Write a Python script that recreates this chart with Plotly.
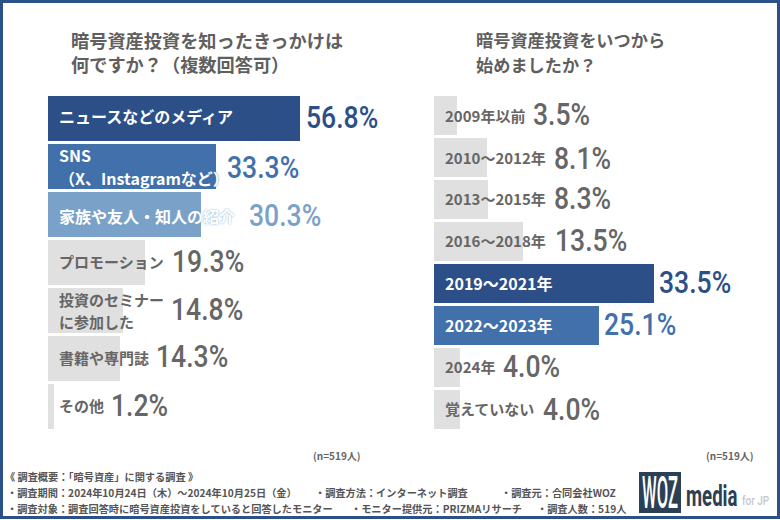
import plotly.graph_objects as go

# ---- data ----
left_categories = ["ニュースなどのメディア", "SNS\n（X、Instagramなど）", "家族や友人・知人の紹介", "プロモーション",
                   "投資のセミナー\nに参加した", "書籍や専門誌", "その他"]
left_values = [56.8, 33.3, 30.3, 19.3, 14.8, 14.3, 1.2]
# The reference draws its longest bar shorter than its 56.8% label on the scale of the other bars.
left_drawn_lengths = [50.0, 33.3, 30.3, 19.3, 14.8, 14.3, 1.2]
right_categories = ["2009年以前", "2010～2012年", "2013～2015年", "2016～2018年",
                    "2019～2021年", "2022～2023年", "2024年", "覚えていない"]
right_values = [3.5, 8.1, 8.3, 13.5, 33.5, 25.1, 4.0, 4.0]
left_title = ["暗号資産投資を知ったきっかけは", "何ですか？（複数回答可）"]
right_title = ["暗号資産投資をいつから", "始めましたか？"]
note = "(n=519人)"
footer = [
    ("《 調査概要：「暗号資産」に関する調査 》", 3, 476),
    ("・調査期間：2024年10月24日（木）～2024年10月25日（金）", 4.5, 492),
    ("・調査方法：インターネット調査", 313, 492),
    ("・調査元：合同会社WOZ", 499, 492),
    ("・調査対象：調査回答時に暗号資産投資をしていると回答したモニター", 4.5, 508),
    ("・モニター提供元：PRIZMAリサーチ", 349, 508),
    ("・調査人数：519人", 535, 508),
]

# ---- style ----
W, H = 780, 520
NAVY, BLUE, SKY, GREY = "#2c4f87", "#4170ab", "#7aa2c8", "#e0e0e0"
TXT = "#666666"
CJK = "Noto Sans CJK JP"
NUM = "Roboto, sans-serif"
LOGO = "#2b3f55"
left_colors = [NAVY, BLUE, SKY, GREY, GREY, GREY, GREY]
right_colors = [GREY, GREY, GREY, GREY, NAVY, BLUE, GREY, GREY]
left_value_colors = [NAVY, BLUE, SKY, TXT, TXT, TXT, TXT]
right_value_colors = [TXT, TXT, TXT, TXT, NAVY, BLUE, TXT, TXT]
left_label_colors = ["white", "white", "white", TXT, TXT, TXT, TXT]
right_label_colors = [TXT, TXT, TXT, TXT, "white", "white", TXT, TXT]
left_value_px = [304, 225, 247, 170, 169, 154, 109]
right_value_px = [531, 552, 552, 553, 657, 602, 501, 541]
# vertical nudges in px, positive = down
left_label_dy = [-2, 0, 2.5, 0, 0, 0, 0]
right_label_dy = [0.5, 1, 0, 0, 0, 0, 0, 0]
left_value_dy = [0, 1.5, 1.5, 0, 0, -1.5, 0]
right_value_dy = [-0.5, 1.5, 0, 0, 0, 0, 0, 1]
two_line_dy = {"SNS": (-11, 12), "投資": (-10, 12)}

L0, LPX = 48, 5.04
R0, RPX = 434, 6.56
fig = go.Figure()
fig.add_bar(y=left_categories, x=left_drawn_lengths, orientation="h", marker=dict(color=left_colors, line_width=0),
            xaxis="x", yaxis="y", showlegend=False, hoverinfo="skip", width=45 / 48)
fig.add_bar(y=right_categories, x=right_values, orientation="h", marker=dict(color=right_colors, line_width=0),
            xaxis="x2", yaxis="y2", showlegend=False, hoverinfo="skip", width=39 / 42)

ann = []
def text(s, px, py, size, color, family=CJK, weight=700):
    ann.append(dict(text=s, x=px / W, y=1 - py / H, xref="paper", yref="paper", xanchor="left", yanchor="middle",
                    align="left", showarrow=False, font=dict(size=size, color=color, family=family, weight=weight)))

def cat_text(s, px, cat, yref, size, color, family=CJK, dy=0, weight=700, **font_kw):
    ann.append(dict(text=s, x=px / W, xref="paper", y=cat, yref=yref, xanchor="left", yanchor="middle", yshift=-dy,
                    showarrow=False, font=dict(size=size, color=color, family=family, weight=weight, **font_kw)))

text("<br>".join(left_title), 68.5, 52.5, 18.2, "#5f5f5f")
for y, s in zip((40, 64), right_title):
    text(s, 474, y, 17.2, "#5f5f5f")

for cats, cols, vals, vcols, vpx, ldy, vdy, yref, x0 in (
    (left_categories, left_label_colors, left_values, left_value_colors, left_value_px, left_label_dy, left_value_dy, "y", 57),
    (right_categories, right_label_colors, right_values, right_value_colors, right_value_px, right_label_dy, right_value_dy, "y2", 442.5),
):
    for c, col, v, vc, vx, ld, vd in zip(cats, cols, vals, vcols, vpx, ldy, vdy):
        size = 16 if col == "white" else 15
        parts = c.split("\n")
        if len(parts) == 2:
            a, b = parts
            d1, d2 = two_line_dy[a[:3] if a.startswith("SNS") else a[:2]]
            cat_text(a, x0, c, yref, size, col, dy=d1)
            cat_text(b, x0, c, yref, size, col, dy=d2,
                     **({"shadow": "0 0 2px " + BLUE} if col == "white" else {}))
        else:
            cat_text(c, x0, c, yref, size, col, dy=ld,
                     **({"shadow": "0 0 2px " + SKY} if c.startswith("家族") else {}))
        cat_text(f"{v:.1f}%", vx, c, yref, 31, vc, family=NUM, weight=500, dy=vd)

text(note, 311, 455, 10, TXT)
text(note, 704, 455, 10, TXT)
for s, x, y in footer:
    text(s, x, y, 10.2, "#555555")

text("WOZ", 639.5, 492, 45, "white", family=NUM, weight=500)
text("media", 684, 495, 30, LOGO, family=NUM, weight=700)
text("for JP", 740, 500, 12.5, "#c4c8cc", family=NUM, weight=500)

def px_x(a): return a / W
def px_y(a): return 1 - a / H
shapes = [
    dict(type="rect", xref="paper", yref="paper", x0=px_x(1.5), x1=px_x(778.5), y0=px_y(1.5), y1=px_y(517.5),
         line=dict(color="#2c5088", width=3), fillcolor="rgba(0,0,0,0)", layer="above"),
    dict(type="rect", xref="paper", yref="paper", x0=px_x(639), x1=px_x(681), y0=px_y(472), y1=px_y(513),
         line_width=0, fillcolor=LOGO, layer="below"),
]

fig.update_layout(
    width=W, height=H, margin=dict(l=0, r=0, t=0, b=0), paper_bgcolor="white", plot_bgcolor="white",
    bargap=0, annotations=ann, shapes=shapes,
    xaxis=dict(domain=[L0 / W, 0.5], range=[0, (0.5 * W - L0) / LPX], visible=False, anchor="y"),
    yaxis=dict(domain=[1 - 429.5 / H, 1 - 93.5 / H], autorange=False, range=[6.5, -0.5], visible=False,
               type="category", categoryorder="array", categoryarray=left_categories, anchor="x"),
    xaxis2=dict(domain=[R0 / W, 1], range=[0, (W - R0) / RPX], visible=False, anchor="y2"),
    yaxis2=dict(domain=[1 - 429.5 / H, 1 - 93.5 / H], autorange=False, range=[7.5, -0.5], visible=False,
                type="category", categoryorder="array", categoryarray=right_categories, anchor="x2"),
)

# Condense the DIN-like numerals and the logo, keeping each text's left edge where it was placed.
post = """
document.body.style.margin='0';
document.querySelectorAll('text.annotation-text').forEach(function(el){
  var s = el.textContent, f = 1;
  if (/%$/.test(s)) f = 0.857;
  else if (s === 'WOZ') f = 0.37;
  else if (s === 'media') f = 0.62;
  else if (s === 'for JP') f = 0.8;
  if (f === 1) return;
  var left = el.getBBox().x;
  el.setAttribute('transform', 'translate(' + left + ',0) scale(' + f + ',1) translate(' + (-left) + ',0)');
});
"""
fig.write_html("out.html", post_script=post, config={"displayModeBar": False})
